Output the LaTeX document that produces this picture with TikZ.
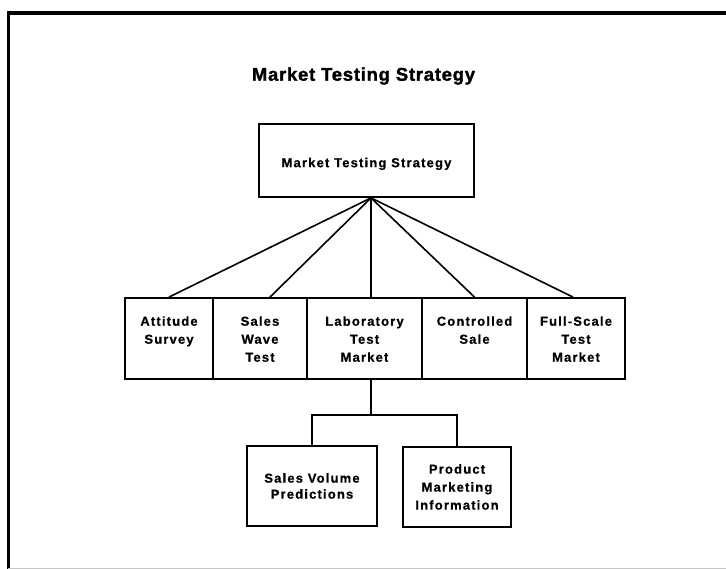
\documentclass[tikz,border=0pt]{standalone}
\usepackage{fontspec}
\setmainfont{Liberation Sans}
\newfontfamily\boxfont[LetterSpace=9,FakeBold=0.6]{Liberation Sans Bold}
\newfontfamily\titlefont[LetterSpace=4,FakeBold=1.5]{Liberation Sans Bold}
\begin{document}
\begin{tikzpicture}[x=1pt,y=-1pt,
  box/.style={draw=black,line width=1.8pt,inner sep=0pt,rectangle},
  boxtext/.style={inner sep=0pt,align=center,font=\boxfont\fontsize{13}{18}\selectfont},
  link/.style={draw=black,line width=1.6pt}]
\useasboundingbox (0,0) rectangle (726,569);
\fill[white] (0,0) rectangle (726,569);

% page frame
\draw[line width=4pt] (8,13) -- (726,13);
\draw[line width=3pt] (8,11.5) -- (8,569);
\draw[gray!45,line width=1pt] (8,568) -- (726,568);

% title
\node[inner sep=0pt,font=\titlefont\fontsize{18.5}{20}\selectfont] (title) at (363.5,76) {Market Testing Strategy};

% root
\node[box,minimum width=215pt,minimum height=73pt,
      boxtext,text depth=0pt] (root) at (366.5,160.5) {\raisebox{-4pt}{Market Testing Strategy}};
\coordinate (hub) at ([xshift=4.5pt]root.south);

% strategy row
\node[box,minimum width=88pt, minimum height=81pt] (att) at (169,338.5) {};
\node[box,minimum width=94pt, minimum height=81pt] (swt) at (260,338.5) {};
\node[box,minimum width=115pt,minimum height=81pt] (lab) at (364.5,338.5) {};
\node[box,minimum width=105pt,minimum height=81pt] (ctl) at (474.5,338.5) {};
\node[box,minimum width=98pt, minimum height=81pt] (fst) at (576,338.5) {};

\node[boxtext,anchor=north] (attT) at ([yshift=-19pt]att.north) {Attitude\\Survey};
\node[boxtext,anchor=north] (swtT) at ([yshift=-19pt]swt.north) {Sales\\Wave\\Test};
\node[boxtext,anchor=north] (labT) at ([yshift=-19pt]lab.north) {Laboratory\\Test\\Market};
\node[boxtext,anchor=north] (ctlT) at ([yshift=-19pt]ctl.north) {Controlled\\Sale};
\node[boxtext,anchor=north] (fstT) at ([yshift=-19pt]fst.north) {Full-Scale\\Test\\Market};

% outcomes of the laboratory test market
\node[box,minimum width=130pt,minimum height=80pt,boxtext,
      font=\boxfont\fontsize{13}{16}\selectfont] (svp) at (312,486) {Sales Volume\\Predictions};
\node[box,minimum width=108pt,minimum height=80pt,boxtext] (pmi) at (457,487) {Product\\Marketing\\Information};

% connectors from the root
\draw[link] (hub) -- (att.north);
\draw[link] (hub) -- ([xshift=10pt]swt.north);
\draw[link] (hub) -- (hub |- lab.north);
\draw[link] (hub) -- (ctl.north);
\draw[link] (hub) -- ([xshift=-3pt]fst.north);

% branch below the laboratory test market
\draw[link] (hub |- lab.south) -- ++(0,35) coordinate (split);
\draw[link] (svp.north) |- (split) -| (pmi.north);
\end{tikzpicture}
\end{document}
